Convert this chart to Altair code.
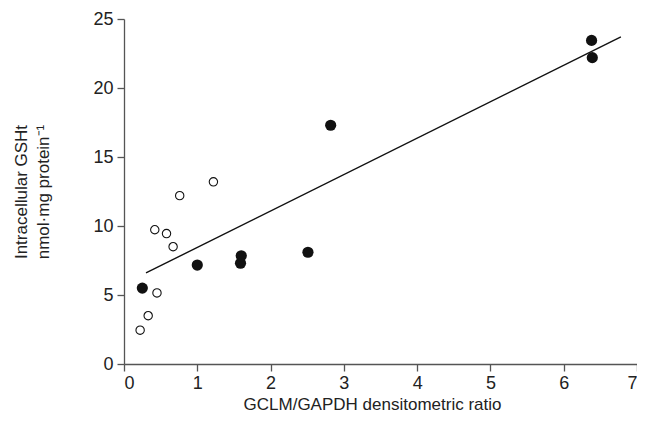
import altair as alt
import pandas as pd

open_x = [0.22, 0.33, 0.45, 0.42, 0.58, 0.67, 0.76, 1.22]
open_y = [2.45, 3.5, 5.15, 9.73, 9.45, 8.5, 12.2, 13.2]
filled_x = [0.25, 1.0, 1.59, 1.6, 2.51, 2.82, 6.38, 6.39]
filled_y = [5.5, 7.17, 7.3, 7.84, 8.1, 17.3, 23.45, 22.2]
line_x = [0.30, 6.78]
line_y = [6.6, 23.7]

FONT = "Liberation Sans"

df_open = pd.DataFrame({"x": open_x, "y": open_y})
df_filled = pd.DataFrame({"x": filled_x, "y": filled_y})
df_line = pd.DataFrame({"x": line_x, "y": line_y})

xscale = alt.Scale(domain=[0, 7], nice=False, zero=False)
yscale = alt.Scale(domain=[0, 25], nice=False, zero=False)

xaxis = alt.Axis(title="GCLM/GAPDH densitometric ratio", values=list(range(0, 8)), format="d",
                 grid=False, tickSize=7, labelPadding=3, titlePadding=4, titleX=248)
yaxis = alt.Axis(title=["Intracellular GSHt", "nmol·mg protein⁻¹"], values=list(range(0, 26, 5)),
                 format="d", grid=False, tickSize=7, labelPadding=4, titlePadding=40)

line = alt.Chart(df_line).mark_line(color="#111", strokeWidth=1.4).encode(
    x=alt.X("x:Q", scale=xscale, axis=xaxis),
    y=alt.Y("y:Q", scale=yscale, axis=yaxis),
)
opens = alt.Chart(df_open).mark_point(shape="circle", filled=False, color="#111",
                                       strokeWidth=1.1, size=70, opacity=1).encode(
    x=alt.X("x:Q", scale=xscale), y=alt.Y("y:Q", scale=yscale))
filled = alt.Chart(df_filled).mark_circle(color="#111", size=125, opacity=1).encode(
    x=alt.X("x:Q", scale=xscale), y=alt.Y("y:Q", scale=yscale))

chart = alt.layer(line, opens, filled).properties(
    width=513, height=345,
    autosize=alt.AutoSizeParams(type="none"),
    padding={"left": 116, "top": 11, "right": 0, "bottom": 54},
).configure_view(stroke=None).configure_axis(
    domainColor="#555", tickColor="#555", domainWidth=1.3, tickWidth=1.3,
    labelFont=FONT, titleFont=FONT, labelFontSize=18, titleFontSize=17,
    labelColor="#222", titleColor="#222", titleFontWeight="normal",
).configure_axisY(titleLineHeight=22)

chart.save("out.html", embed_options={"renderer": "svg", "actions": False})
